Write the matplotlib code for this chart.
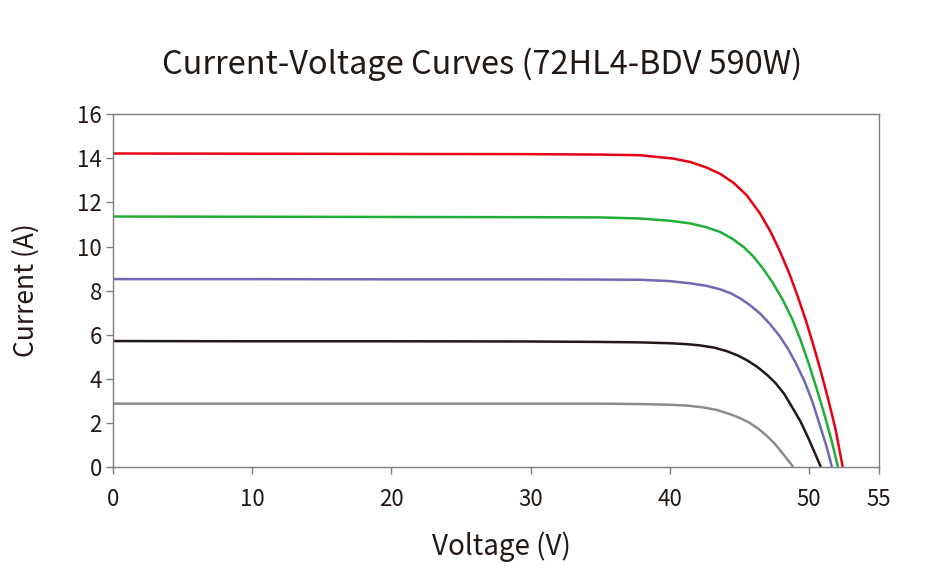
import matplotlib
matplotlib.use("Agg")
import matplotlib.pyplot as plt

plt.rcParams['font.family'] = ['Noto Sans CJK JP', 'DejaVu Sans']

# Voltage (V) / Current (A) points
v_1000 = [0, 10, 20, 30, 35.0, 37.86, 40.25, 41.5, 42.65, 43.61, 44.56, 45.52, 46.48, 47.2, 47.9, 48.6, 49.2, 49.8, 50.35, 50.9, 51.4, 51.9, 52.42]
i_1000 = [14.22, 14.21, 14.20, 14.19, 14.17, 14.14, 13.99, 13.83, 13.58, 13.30, 12.90, 12.33, 11.50, 10.72, 9.80, 8.75, 7.72, 6.60, 5.45, 4.22, 3.02, 1.73, 0.0]

v_800 = [0, 10, 20, 30, 35.0, 37.86, 40.0, 41.45, 42.6, 43.61, 44.5, 45.3, 46.0, 46.7, 47.4, 48.1, 48.8, 49.4, 50.0, 50.55, 51.1, 51.6, 52.08]
i_800 = [11.36, 11.35, 11.34, 11.33, 11.32, 11.27, 11.17, 11.05, 10.88, 10.66, 10.35, 9.98, 9.55, 9.00, 8.35, 7.60, 6.70, 5.75, 4.65, 3.55, 2.40, 1.25, 0.0]

v_600 = [0, 10, 20, 30, 35.0, 37.86, 40.0, 41.45, 42.6, 43.61, 44.4, 45.1, 45.8, 46.5, 47.2, 47.9, 48.5, 49.1, 49.7, 50.25, 50.8, 51.25, 51.65]
i_600 = [8.52, 8.52, 8.51, 8.51, 8.50, 8.49, 8.43, 8.33, 8.22, 8.06, 7.87, 7.63, 7.32, 6.95, 6.48, 5.93, 5.35, 4.65, 3.85, 2.95, 1.85, 0.95, 0.0]

v_400 = [0, 10, 20, 30, 35.0, 37.86, 40.0, 41.2, 42.2, 43.2, 44.1, 44.9, 45.6, 46.3, 47.0, 47.6, 48.2, 48.8, 49.4, 49.9, 50.4, 50.85]
i_400 = [5.71, 5.70, 5.70, 5.69, 5.67, 5.65, 5.61, 5.57, 5.51, 5.41, 5.25, 5.05, 4.82, 4.53, 4.17, 3.80, 3.33, 2.70, 2.05, 1.38, 0.66, 0.0]

v_200 = [0, 10, 20, 30, 35.0, 37.86, 40.0, 41.3, 42.4, 43.4, 44.3, 45.0, 45.7, 46.3, 46.9, 47.5, 48.0, 48.45, 48.87]
i_200 = [2.87, 2.87, 2.87, 2.87, 2.87, 2.85, 2.82, 2.78, 2.70, 2.58, 2.40, 2.23, 2.01, 1.76, 1.45, 1.08, 0.70, 0.34, 0.0]

series = [
    (v_1000, i_1000, '#e60012'),
    (v_800, i_800, '#22ac38'),
    (v_600, i_600, '#6f69b4'),
    (v_400, i_400, '#231815'),
    (v_200, i_200, '#8c8c8c'),
]

x_ticks = [0, 10, 20, 30, 40, 50, 55]
y_ticks = [0, 2, 4, 6, 8, 10, 12, 14, 16]

title = 'Current-Voltage Curves (72HL4-BDV 590W)'
xlabel = 'Voltage (V)'
ylabel = 'Current (A)'

fig = plt.figure(figsize=(9.26, 5.8), dpi=100)
ax = fig.add_axes([0.122, 0.195, 0.8268, 0.608])

for v, i, c in series:
    ax.plot(v, i, color=c, lw=1.8, solid_capstyle='butt', solid_joinstyle='round')

ax.set_xlim(0, 55)
ax.set_ylim(0, 16)
ax.set_xticks(x_ticks)
ax.set_yticks(y_ticks)

for s in ax.spines.values():
    s.set_color('#7f7f7f')
    s.set_linewidth(1.0)

ax.tick_params(axis='x', direction='out', length=5, width=1, color='#7f7f7f',
               labelsize=16, labelcolor='#231815', pad=10)
ax.tick_params(axis='y', direction='out', length=5, width=1, color='#7f7f7f',
               labelsize=16, labelcolor='#231815', pad=3)

ax.set_xlabel(xlabel, fontsize=20, color='#231815')
ax.xaxis.set_label_coords(0.508, -0.226)
ax.xaxis.label.set_va('center')
ax.set_ylabel(ylabel, fontsize=19, color='#231815', labelpad=27)
fig.text(0.521, 0.889, title, fontsize=23.4, color='#231815', ha='center', va='center')

fig.savefig('out.png', dpi=100)
